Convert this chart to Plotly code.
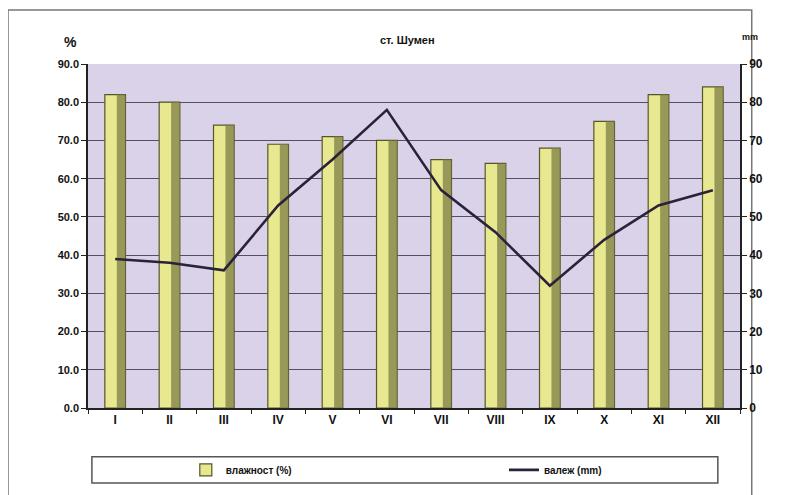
import plotly.graph_objects as go

months = ["I", "II", "III", "IV", "V", "VI", "VII", "VIII", "IX", "X", "XI", "XII"]
humidity = [82, 80, 74, 69, 71, 70, 65, 64, 68, 75, 82, 84]
precip = [39, 38, 36, 53, 65, 78, 57, 46, 32, 44, 53, 57]
left_ticks = [0, 10, 20, 30, 40, 50, 60, 70, 80, 90]
right_ticks = [0, 10, 20, 30, 40, 50, 60, 70, 80, 90]

FONT = "Liberation Sans"

fig = go.Figure()
fig.add_trace(go.Bar(
    x=months, y=humidity, name="<b>влажност (%)</b>",
    width=0.38,
    marker=dict(color="#e8e890", line=dict(color="#55552a", width=1.2)),
    yaxis="y", legend="legend",
))
# darker shading on right half of cylinders
fig.add_trace(go.Bar(
    x=months, y=humidity, name="shade", showlegend=False,
    width=0.16, offset=0.03,
    marker=dict(color="#7e7e45", line=dict(width=0), opacity=0.75),
    yaxis="y", hoverinfo="skip",
))
fig.add_trace(go.Scatter(
    x=months, y=precip, name="<b>валеж (mm)</b>", mode="lines",
    line=dict(color="#2a2238", width=2.6),
    yaxis="y2", legend="legend2",
))

fig.update_layout(
    width=792, height=495,
    margin=dict(l=80, r=60, t=56, b=95, autoexpand=False),
    paper_bgcolor="white",
    plot_bgcolor="#dad2e8",
    barmode="overlay",
    font=dict(family=FONT, size=11, color="#111"),
    xaxis=dict(
        showline=True, linecolor="#222", linewidth=1.5,
        ticks="outside", ticklen=4, tickcolor="#222", tickson="boundaries",
        tickfont=dict(size=12, family=FONT, weight="bold"),
        showgrid=False,
    ),
    yaxis=dict(
        range=[0, 90], tickvals=left_ticks, tickformat=".1f",
        showline=True, linecolor="#222", linewidth=1.5,
        ticks="outside", ticklen=5, tickcolor="#222",
        gridcolor="#55505e", gridwidth=1.2,
        tickfont=dict(size=11, family=FONT, weight="bold"),
        zeroline=False,
    ),
    yaxis2=dict(
        range=[0, 90], tickvals=right_ticks, overlaying="y", side="right",
        showline=True, linecolor="#222", linewidth=1.5,
        ticks="outside", ticklen=5, tickcolor="#222",
        showgrid=False, zeroline=False,
        tickfont=dict(size=12, family=FONT, weight="bold"),
    ),
    legend=dict(
        orientation="h", x=0.15, y=-0.18, xanchor="left", yanchor="middle",
        bgcolor="rgba(0,0,0,0)", font=dict(size=10, family=FONT),
    ),
    legend2=dict(
        orientation="h", x=0.638, y=-0.18, xanchor="left", yanchor="middle",
        bgcolor="rgba(0,0,0,0)", font=dict(size=10, family=FONT),
    ),
    showlegend=True,
)

# outer frame and legend box
fig.add_shape(type="rect", xref="paper", yref="paper",
              x0=-0.1227, x1=1.018, y0=-0.262, y1=1.157,
              line=dict(color="#777", width=1.5), fillcolor="rgba(0,0,0,0)", layer="below")
fig.add_shape(type="rect", xref="paper", yref="paper",
              x0=0.006, x1=0.966, y0=-0.218, y1=-0.142,
              line=dict(color="#555", width=1.5), fillcolor="rgba(0,0,0,0)")

fig.add_annotation(text="<b>ст. Шумен</b>", xref="paper", yref="paper",
                   x=0.49, y=1.07, yanchor="middle", showarrow=False,
                   font=dict(size=11, family=FONT))
fig.add_annotation(text="<b>%</b>", xref="paper", yref="paper",
                   x=-0.04, y=1.064, yanchor="middle", showarrow=False,
                   font=dict(size=14, family=FONT))
fig.add_annotation(text="<b>mm</b>", xref="paper", yref="paper",
                   x=1.03, y=1.078, yanchor="middle", showarrow=False,
                   font=dict(size=9, family=FONT))

fig.write_html("out.html")
